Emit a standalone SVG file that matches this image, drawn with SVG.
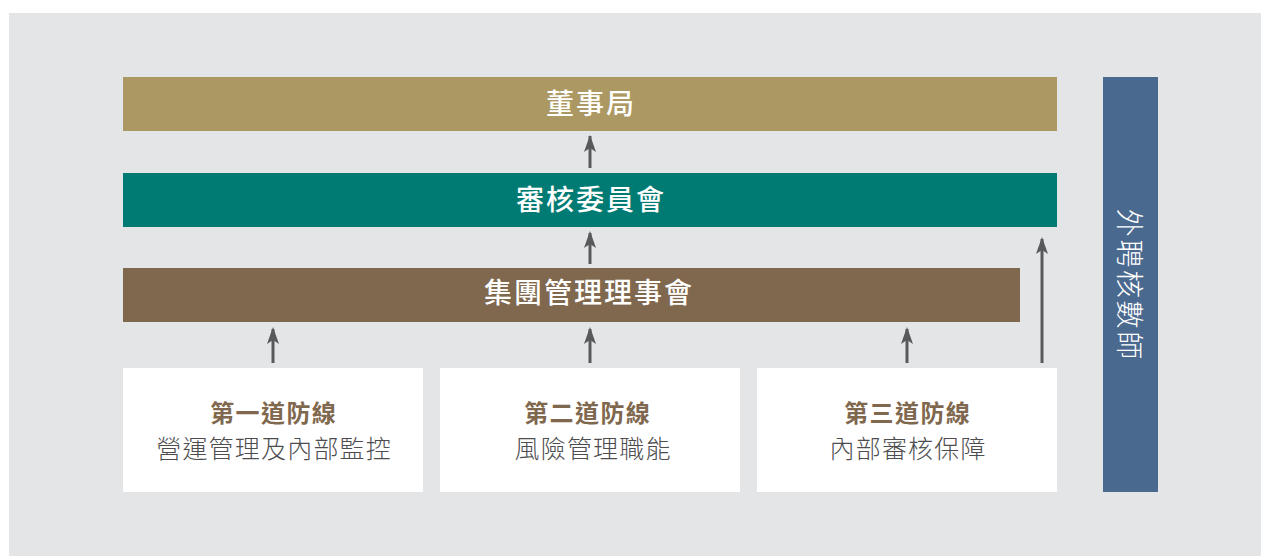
<svg xmlns="http://www.w3.org/2000/svg" width="1261" height="556" viewBox="0 0 1261 556">
<style>
.t{font-family:"Noto Sans CJK TC","Noto Sans CJK SC",sans-serif;text-anchor:middle;dominant-baseline:central}
.h{fill:#fff;font-size:28px;font-weight:500;letter-spacing:2px}
.b{fill:#7f684e;font-size:24px;font-weight:700;letter-spacing:1.4px}
.s{fill:#4d4d4f;font-size:25px;font-weight:300;letter-spacing:1.2px}
.v{fill:#fff;font-size:28px;font-weight:300;letter-spacing:2.6px}
</style>
<rect x="9" y="13" width="1252" height="543" fill="#e4e5e6"/>
<g id="board"><rect x="123" y="77" width="934" height="54" fill="#ab9862"/><text class="t h" x="591" y="102">董事局</text></g>
<g id="audit-committee"><rect x="123" y="173" width="934" height="54" fill="#007b73"/><text class="t h" x="591" y="198">審核委員會</text></g>
<g id="group-management"><rect x="123" y="268" width="897" height="54" fill="#7f684e"/><text class="t h" x="589" y="291">集團管理理事會</text></g>
<g id="line1"><rect x="123" y="368" width="300" height="124" fill="#fff"/><text class="t b" x="273.7" y="411">第一道防線</text><text class="t s" x="274.1" y="447">營運管理及內部監控</text></g>
<g id="line2"><rect x="440" y="368" width="300" height="124" fill="#fff"/><text class="t b" x="587.7" y="411">第二道防線</text><text class="t s" x="593.1" y="447">風險管理職能</text></g>
<g id="line3"><rect x="757" y="368" width="300" height="124" fill="#fff"/><text class="t b" x="907.7" y="411">第三道防線</text><text class="t s" x="908.1" y="447">內部審核保障</text></g>
<g id="external-auditor"><rect x="1103" y="77" width="55" height="415" fill="#4a698e"/><text class="t v" transform="translate(1130.5,284) rotate(90)" x="1.3" y="0">外聘核數師</text></g>
<g id="connectors">
<path d="M590,168 V136" stroke="#58595b" stroke-width="3"/>
<path d="M590,135 L596,152 L590,148 L584,152 Z" fill="#58595b"/>
<path d="M590,264 V233" stroke="#58595b" stroke-width="3"/>
<path d="M590,231 L596,248 L590,244 L584,248 Z" fill="#58595b"/>
<path d="M273,363 V329" stroke="#58595b" stroke-width="3"/>
<path d="M273,327 L279,344 L273,340 L267,344 Z" fill="#58595b"/>
<path d="M590,363 V329" stroke="#58595b" stroke-width="3"/>
<path d="M590,327 L596,344 L590,340 L584,344 Z" fill="#58595b"/>
<path d="M907,363 V329" stroke="#58595b" stroke-width="3"/>
<path d="M907,327 L913,344 L907,340 L901,344 Z" fill="#58595b"/>
<path d="M1042,363 V239" stroke="#58595b" stroke-width="3"/>
<path d="M1042,237 L1048,254 L1042,250 L1036,254 Z" fill="#58595b"/>
</g>
</svg>
